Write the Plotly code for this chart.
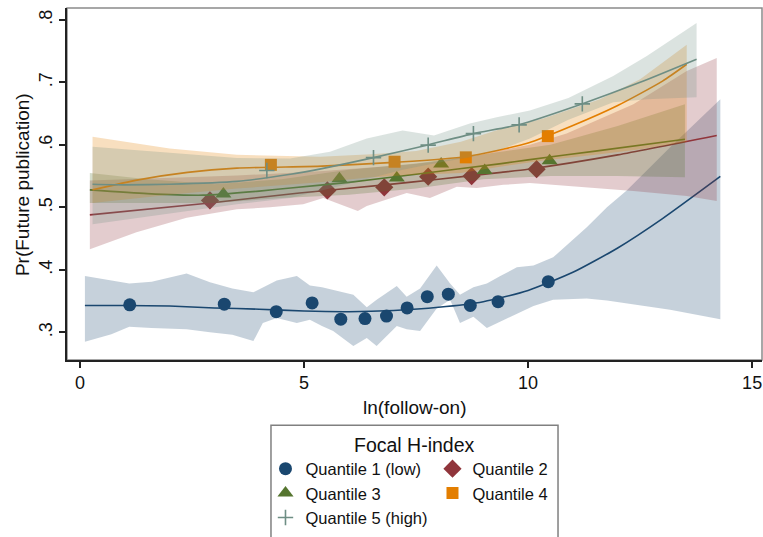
import plotly.graph_objects as go

FONT = "Liberation Sans, Arial, Helvetica, sans-serif"

# ---- series labels and colours (Stata s2color palette) ----
labels = ["Quantile 1 (low)", "Quantile 2", "Quantile 3", "Quantile 4", "Quantile 5 (high)"]
colors = ["#1a476f", "#90353b", "#55752f", "#e37e00", "#6e8e84"]
symbols = ["circle", "diamond", "triangle-up", "square", "cross-thin"]
marker_sizes = [13, 14, 14, 12, 11]
legend_groups = ["left", "right", "left", "right", "left"]
legend_title = "Focal H-index"

# ---- Quantile 1 (low) ----
q1_x = [1.11, 3.22, 4.38, 5.18, 5.82, 6.36, 6.84, 7.30, 7.75, 8.22, 8.71, 9.33, 10.45]
q1_y = [0.344, 0.345, 0.333, 0.347, 0.321, 0.322, 0.326, 0.339, 0.357, 0.361, 0.343, 0.349, 0.381]
q1_fit_x = [0.11, 1.0, 2.0, 3.0, 4.0, 5.0, 6.0, 7.0, 8.0, 9.0, 10.0, 11.0, 12.0, 13.0, 14.29]
q1_fit_y = [0.343, 0.343, 0.342, 0.339, 0.337, 0.334, 0.333, 0.335, 0.340, 0.349, 0.367, 0.396, 0.435, 0.482, 0.5495]
q1_ci_x = [0.11, 0.7, 1.1, 1.6, 2.38, 2.9, 3.4, 3.87, 4.08, 4.39, 4.84, 5.13, 5.4, 5.65, 6.1,
           6.4, 6.62, 7.07, 7.29, 7.59, 7.96, 8.26, 8.48, 8.78, 9.08, 9.38, 9.75, 10.12, 10.56,
           11.31, 11.76, 12.2, 13.17, 14.29]
q1_ci_hi = [0.390, 0.383, 0.378, 0.381, 0.394, 0.380, 0.370, 0.364, 0.372, 0.383, 0.390, 0.375, 0.372,
            0.368, 0.360, 0.340, 0.352, 0.374, 0.357, 0.370, 0.407, 0.378, 0.360, 0.372, 0.378, 0.390,
            0.404, 0.407, 0.420, 0.468, 0.500, 0.527, 0.596, 0.673]
q1_ci_lo = [0.285, 0.297, 0.309, 0.307, 0.305, 0.300, 0.296, 0.286, 0.315, 0.323, 0.315, 0.320, 0.310,
            0.302, 0.278, 0.291, 0.278, 0.310, 0.305, 0.302, 0.338, 0.352, 0.315, 0.325, 0.307, 0.317,
            0.330, 0.342, 0.352, 0.354, 0.351, 0.346, 0.336, 0.321]

# ---- Quantile 2 ----
q2_x = [2.90, 5.52, 6.79, 7.77, 8.74, 10.19]
q2_y = [0.511, 0.527, 0.532, 0.549, 0.550, 0.561]
q2_fit_x = [0.22, 2.9, 4.9, 6.8, 8.0, 9.4, 10.0, 12.0, 14.21]
q2_fit_y = [0.488, 0.507, 0.523, 0.536, 0.545, 0.556, 0.561, 0.584, 0.615]
q2_ci_x = [0.22, 1.26, 2.38, 3.5, 4.24, 4.98, 5.43, 6.2, 6.4, 7.29, 7.81, 8.41, 8.85, 9.45, 10.04,
           10.86, 12.35, 13.54, 14.21]
q2_ci_hi = [0.543, 0.545, 0.548, 0.551, 0.553, 0.556, 0.558, 0.562, 0.563, 0.568, 0.572, 0.578, 0.583,
            0.592, 0.600, 0.618, 0.665, 0.718, 0.739]
q2_ci_lo = [0.433, 0.460, 0.4835, 0.497, 0.500, 0.505, 0.515, 0.494, 0.502, 0.523, 0.515, 0.533, 0.531,
            0.536, 0.539, 0.534, 0.526, 0.518, 0.510]

# ---- Quantile 3 ----
q3_x = [3.20, 5.79, 7.07, 8.06, 9.03, 10.48]
q3_y = [0.5215, 0.5456, 0.547, 0.5695, 0.559, 0.5745]
q3_fit_x = [0.22, 1.5, 2.75, 4.0, 4.7, 6.0, 7.5, 9.4, 10.0, 11.5, 13.5]
q3_fit_y = [0.528, 0.522, 0.5195, 0.526, 0.531, 0.540, 0.553, 0.570, 0.576, 0.590, 0.609]
q3_ci_x = [0.22, 1.5, 3.0, 4.5, 6.0, 7.5, 9.0, 10.5, 12.0, 13.5]
q3_ci_hi = [0.555, 0.545, 0.537, 0.545, 0.560, 0.570, 0.585, 0.600, 0.630, 0.665]
q3_ci_lo = [0.507, 0.507, 0.507, 0.515, 0.520, 0.530, 0.545, 0.550, 0.550, 0.548]

# ---- Quantile 4 ----
q4_x = [4.26, 7.02, 8.61, 10.44]
q4_y = [0.568, 0.573, 0.580, 0.614]
q4_fit_x = [0.28, 1.3, 2.4, 3.5, 5.4, 7.0, 8.6, 10.0, 11.0, 12.0, 13.0, 13.54]
q4_fit_y = [0.528, 0.544, 0.556, 0.5627, 0.566, 0.572, 0.581, 0.603, 0.631, 0.663, 0.702, 0.729]
q4_ci_x = [0.28, 2.0, 3.5, 5.36, 6.5, 7.5, 8.5, 9.37, 10.34, 11.6, 12.5, 13.54]
q4_ci_hi = [0.613, 0.594, 0.584, 0.581, 0.585, 0.590, 0.605, 0.625, 0.642, 0.673, 0.705, 0.760]
q4_ci_lo = [0.507, 0.520, 0.530, 0.540, 0.548, 0.552, 0.555, 0.565, 0.575, 0.585, 0.593, 0.605]

# ---- Quantile 5 (high) ----
q5_x = [4.17, 6.55, 7.77, 8.78, 9.80, 11.21]
q5_y = [0.559, 0.5796, 0.5995, 0.618, 0.632, 0.6655]
q5_fit_x = [0.28, 1.0, 2.0, 3.5, 4.7, 5.4, 6.55, 7.74, 8.78, 9.78, 11.2, 12.5, 13.76]
q5_fit_y = [0.537, 0.536, 0.537, 0.5415, 0.553, 0.562, 0.5796, 0.5995, 0.618, 0.632, 0.6655, 0.700, 0.737]
q5_ci_x = [0.28, 2.0, 3.5, 4.69, 5.58, 6.4, 7.2, 7.9, 8.7, 9.3, 10.04, 10.9, 11.9, 12.65, 13.76]
q5_ci_hi = [0.597, 0.588, 0.579, 0.578, 0.589, 0.610, 0.623, 0.615, 0.634, 0.644, 0.655, 0.675,
            0.710, 0.742, 0.795]
q5_ci_lo = [0.473, 0.490, 0.505, 0.515, 0.530, 0.545, 0.560, 0.570, 0.580, 0.590, 0.610, 0.640,
            0.668, 0.673, 0.676]

# ---- axes ----
x_ticks = [0, 5, 10, 15]
y_ticks = [0.3, 0.4, 0.5, 0.6, 0.7, 0.8]
y_tick_text = [".3", ".4", ".5", ".6", ".7", ".8"]

series = [
    (q1_x, q1_y, q1_fit_x, q1_fit_y, q1_ci_x, q1_ci_hi, q1_ci_lo),
    (q2_x, q2_y, q2_fit_x, q2_fit_y, q2_ci_x, q2_ci_hi, q2_ci_lo),
    (q3_x, q3_y, q3_fit_x, q3_fit_y, q3_ci_x, q3_ci_hi, q3_ci_lo),
    (q4_x, q4_y, q4_fit_x, q4_fit_y, q4_ci_x, q4_ci_hi, q4_ci_lo),
    (q5_x, q5_y, q5_fit_x, q5_fit_y, q5_ci_x, q5_ci_hi, q5_ci_lo),
]


def rgba(hex_color, alpha):
    h = hex_color.lstrip("#")
    r, g, b = int(h[0:2], 16), int(h[2:4], 16), int(h[4:6], 16)
    return f"rgba({r},{g},{b},{alpha})"


fig = go.Figure()

# each group: confidence band, fitted curve, then binned means
for i, (px, py, fx, fy, cx, chi, clo) in enumerate(series):
    col = colors[i]
    fig.add_trace(go.Scatter(
        x=list(cx) + list(cx)[::-1], y=list(chi) + list(clo)[::-1],
        mode="lines", fill="toself", fillcolor=rgba(col, 0.25),
        line=dict(width=0, color=rgba(col, 0)), showlegend=False, hoverinfo="skip"))
    fig.add_trace(go.Scatter(
        x=fx, y=fy, mode="lines", line=dict(color=col, width=1.6, shape="spline", smoothing=0.6),
        showlegend=False, hoverinfo="skip"))
    marker = dict(symbol=symbols[i], size=marker_sizes[i], color=col)
    if symbols[i] == "cross-thin":
        marker["line"] = dict(color=col, width=1.6)
    else:
        marker["line"] = dict(width=0)
    fig.add_trace(go.Scatter(
        x=px, y=py, mode="markers", marker=marker, name=labels[i],
        legendgroup=legend_groups[i], showlegend=True))

axis_common = dict(
    showgrid=False, zeroline=False, showline=True, linecolor="#222222", linewidth=1.5,
    ticks="outside", ticklen=6, tickwidth=1.5, tickcolor="#222222",
    tickfont=dict(family=FONT, size=18, color="#111111"),
)

fig.update_layout(
    width=763, height=537,
    margin=dict(l=67, r=1, t=8, b=173),
    paper_bgcolor="white", plot_bgcolor="white",
    font=dict(family=FONT, color="#111111"),
    xaxis=dict(range=[-0.29, 15.22], tickvals=x_ticks, **axis_common),
    yaxis=dict(range=[0.2557, 0.819], tickvals=y_ticks, ticktext=y_tick_text,
               tickangle=-90, **axis_common),
    shapes=[
        # plot region outline
        dict(type="rect", xref="paper", yref="paper", x0=0, x1=1, y0=0, y1=1,
             line=dict(color="#8a8a8a", width=1.5), layer="below"),
        # legend frame (runs past the bottom edge of the page)
        dict(type="rect", xref="paper", yref="paper", x0=0.2935, x1=0.7065, y0=-0.52, y1=-0.1854,
             line=dict(color="#808080", width=1.5), fillcolor="rgba(0,0,0,0)", layer="above"),
    ],
    annotations=[
        dict(text="ln(follow-on)", xref="paper", yref="paper", x=0.5007, y=-0.135,
             xanchor="center", yanchor="middle", showarrow=False,
             font=dict(family=FONT, size=19, color="#111111")),
        dict(text="Pr(Future publication)", xref="paper", yref="paper", x=-0.0647, y=0.497,
             xanchor="center", yanchor="middle", textangle=-90, showarrow=False,
             font=dict(family=FONT, size=19, color="#111111")),
        dict(text=legend_title, xref="paper", yref="paper", x=0.5, y=-0.2424,
             xanchor="center", yanchor="middle", showarrow=False,
             font=dict(family=FONT, size=19.5, color="#111111")),
    ],
    legend=dict(
        orientation="h", traceorder="grouped",
        x=0.2856, xanchor="left", y=-0.2598, yanchor="top",
        borderwidth=0, bgcolor="rgba(0,0,0,0)",
        font=dict(family=FONT, size=16.5, color="#111111"),
        itemwidth=30, tracegroupgap=0,
    ),
)

fig.write_html("out.html")
